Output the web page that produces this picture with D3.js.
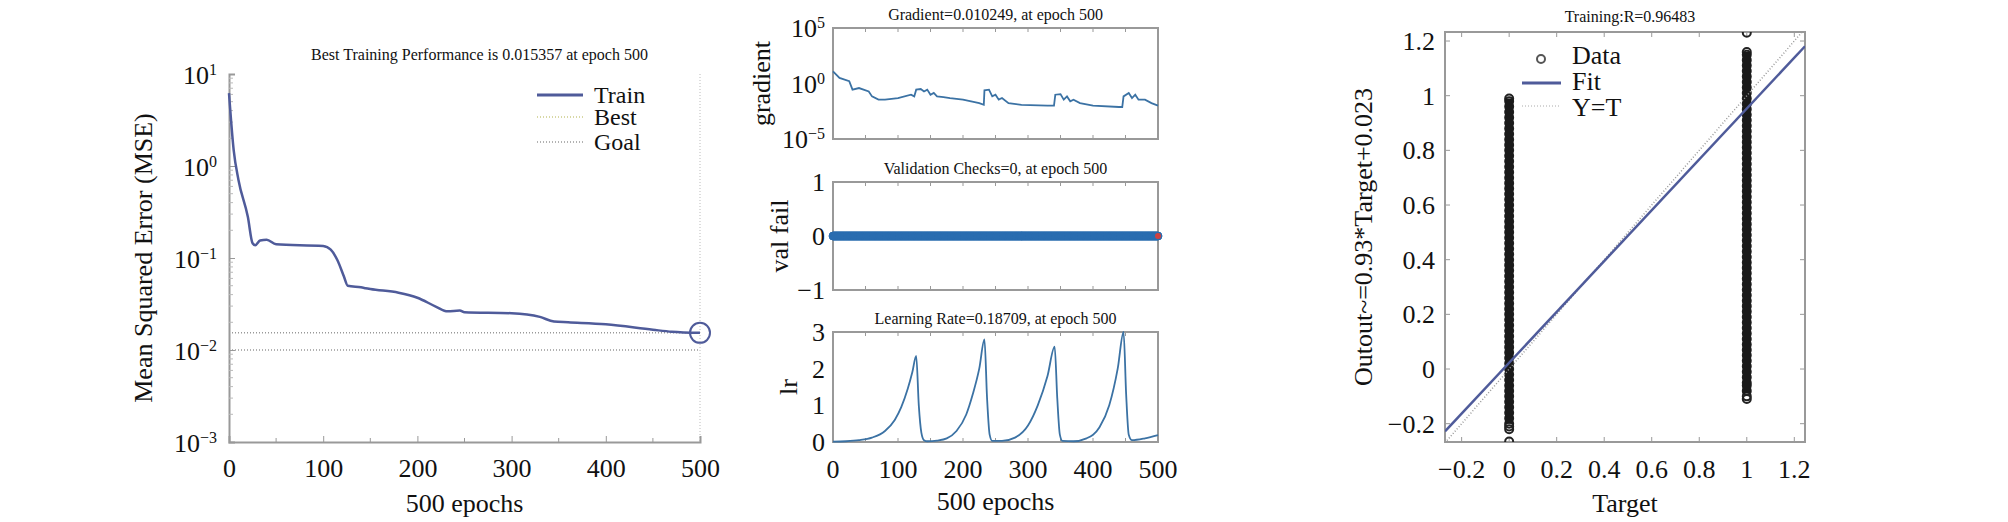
<!DOCTYPE html>
<html>
<head>
<meta charset="utf-8">
<title>Training plots</title>
<script src="https://cdn.jsdelivr.net/npm/d3@7"></script>
<style>
body { margin: 0; background: #fff; }
text { font-family: "Liberation Serif", "DejaVu Serif", serif; fill: #111; }
</style>
</head>
<body>
<script>
// ---- data ----
var perfEpochs = [0, 5, 10, 20, 25, 28, 33, 40, 50, 100, 108, 115, 122, 126, 140, 145, 150, 180, 200, 220, 232, 245, 250, 300, 330, 345, 360, 400, 450, 470, 500];
var perfMse = [6.2, 1.48, 0.71, 0.28, 0.145, 0.138, 0.155, 0.158, 0.141, 0.135, 0.123, 0.095, 0.063, 0.050, 0.048, 0.047, 0.046, 0.042, 0.037, 0.0295, 0.0263, 0.0269, 0.0257, 0.0251, 0.0229, 0.0204, 0.0200, 0.0190, 0.0166, 0.0158, 0.015357];
var bestPerf = 0.015357, goalPerf = 0.01, bestEpoch = 500;

var gradEpochs = [0, 10, 25, 30, 40, 55, 60, 70, 80, 100, 120, 125, 128, 135, 140, 145, 150, 155, 160, 170, 180, 200, 225, 232, 233, 240, 245, 250, 255, 260, 270, 290, 330, 340, 342, 350, 355, 360, 365, 370, 380, 400, 440, 445, 447, 455, 460, 465, 470, 480, 490, 500];
var gradVals = [12.6, 3.2, 1.6, 0.28, 0.39, 0.19, 0.069, 0.035, 0.035, 0.049, 0.098, 0.069, 0.28, 0.32, 0.19, 0.28, 0.098, 0.14, 0.069, 0.06, 0.049, 0.035, 0.017, 0.012, 0.24, 0.28, 0.069, 0.098, 0.035, 0.049, 0.017, 0.012, 0.01, 0.01, 0.098, 0.11, 0.035, 0.069, 0.025, 0.035, 0.017, 0.01, 0.0076, 0.0076, 0.069, 0.14, 0.049, 0.098, 0.035, 0.035, 0.017, 0.010249];

var valEpochs = d3.range(0, 501);
var valFail = valEpochs.map(function () { return 0; });

var lrEpochs = [0, 20, 40, 60, 80, 95, 105, 115, 122, 128, 132, 136, 140, 145, 160, 175, 190, 205, 215, 225, 233, 237, 241, 245, 260, 280, 300, 315, 330, 341, 345, 349, 353, 370, 390, 410, 425, 438, 447, 451, 455, 460, 480, 500];
var lrVals = [0.01, 0.02, 0.05, 0.12, 0.3, 0.6, 0.95, 1.45, 1.9, 2.35, 1.0, 0.25, 0.05, 0.02, 0.04, 0.1, 0.3, 0.75, 1.3, 2.0, 2.8, 1.2, 0.2, 0.03, 0.03, 0.12, 0.45, 1.0, 1.8, 2.6, 1.2, 0.2, 0.03, 0.02, 0.1, 0.4, 1.0, 2.0, 3.0, 1.3, 0.2, 0.05, 0.1, 0.18709];

var outT0 = [-0.265, -0.22, -0.21, -0.2, -0.18, -0.16, -0.14, -0.12, -0.1, -0.08, -0.06, -0.04, -0.02, 0, 0.02, 0.04, 0.06, 0.08, 0.1, 0.12, 0.14, 0.16, 0.18, 0.2, 0.22, 0.24, 0.26, 0.28, 0.3, 0.32, 0.34, 0.36, 0.38, 0.4, 0.42, 0.44, 0.46, 0.48, 0.5, 0.52, 0.54, 0.56, 0.58, 0.6, 0.62, 0.64, 0.66, 0.68, 0.7, 0.72, 0.74, 0.76, 0.78, 0.8, 0.82, 0.84, 0.86, 0.88, 0.9, 0.92, 0.94, 0.96, 0.98, 0.99];
var outT1 = [-0.11, -0.1, -0.08, -0.06, -0.05, -0.03, -0.01, 0.01, 0.03, 0.05, 0.07, 0.09, 0.11, 0.13, 0.15, 0.17, 0.19, 0.21, 0.23, 0.25, 0.27, 0.29, 0.31, 0.33, 0.35, 0.37, 0.39, 0.41, 0.43, 0.45, 0.47, 0.49, 0.51, 0.53, 0.55, 0.57, 0.59, 0.61, 0.63, 0.65, 0.67, 0.69, 0.71, 0.73, 0.75, 0.77, 0.79, 0.81, 0.83, 0.85, 0.87, 0.89, 0.91, 0.93, 0.95, 0.97, 0.99, 1.01, 1.03, 1.05, 1.07, 1.09, 1.11, 1.13, 1.15, 1.16, 1.23];
var fitSlope = 0.93, fitIntercept = 0.023;

var svg = d3.select("body").append("svg").attr("width", 2008).attr("height", 522);

var supNames = { "1": "1", "0": "0", "-1": "\u22121", "-2": "\u22122", "-3": "\u22123", "5": "5", "-5": "\u22125" };
function powLabel(sel, exp) {
    sel.text("10").append("tspan").attr("dy", "-0.55em").style("font-size", "16px").text(supNames[String(exp)]);
}
function styleAxis(g) {
    g.select(".domain").attr("stroke", "#999").attr("stroke-width", 2);
    g.selectAll(".tick line").attr("stroke", "#999");
}
function minus(v) { return String(v).replace("-", "\u2212"); }

// ---------- panel 1: performance ----------
(function () {
    var L = 229, R = 700, T = 74, B = 442;
    var x = d3.scaleLinear().domain([0, 500]).range([L, R]);
    var y = d3.scaleLog().domain([1e-3, 10]).range([B, T]);
    var g = svg.append("g");

    g.append("line").attr("x1", x(500)).attr("x2", x(500)).attr("y1", T).attr("y2", B)
        .attr("stroke", "#bbb").attr("stroke-dasharray", "1,2");
    [bestPerf, goalPerf].forEach(function (v) {
        g.append("line").attr("x1", L).attr("x2", R).attr("y1", y(v)).attr("y2", y(v))
            .attr("stroke", "#999").attr("stroke-dasharray", "1,2").attr("stroke-width", 1.5);
    });

    var xa = g.append("g").attr("transform", "translate(0," + B + ")")
        .call(d3.axisBottom(x).tickValues([0, 100, 200, 300, 400, 500]).tickSize(-6).tickPadding(12));
    styleAxis(xa);
    xa.selectAll(".tick text").style("font-size", "26px").attr("dy", "0.9em");
    xa.selectAll(".tick line").filter(function (d) { return d === 0; }).remove();
    // minor x ticks
    g.selectAll(".mx").data([50, 150, 250, 350, 450]).enter().append("line")
        .attr("x1", x).attr("x2", x).attr("y1", B).attr("y2", B - 4).attr("stroke", "#999");

    var ya = g.append("g").attr("transform", "translate(" + L + ",0)")
        .call(d3.axisLeft(y).tickValues([1e-3, 1e-2, 1e-1, 1, 10]).tickSize(-6).tickFormat(""));
    styleAxis(ya);
    ya.selectAll(".tick").each(function (d) {
        d3.select(this).append("text").attr("x", -12).attr("dy", "0.35em").attr("text-anchor", "end")
            .style("font-size", "26px").call(powLabel, Math.round(Math.log10(d)));
    });
    var minors = [];
    [1e-3, 1e-2, 1e-1, 1].forEach(function (b) { for (var k = 2; k < 10; k++) minors.push(b * k); });
    g.selectAll(".my").data(minors).enter().append("line")
        .attr("x1", L).attr("x2", L + 4).attr("y1", y).attr("y2", y).attr("stroke", "#bbb");

    var line = d3.line().x(function (d, i) { return x(perfEpochs[i]); }).y(function (d) { return y(d); }).curve(d3.curveMonotoneX);
    g.append("path").datum(perfMse).attr("d", line).attr("fill", "none").attr("stroke", "#4f5b9a").attr("stroke-width", 2.5);
    g.append("circle").attr("cx", x(bestEpoch)).attr("cy", y(bestPerf)).attr("r", 10)
        .attr("fill", "none").attr("stroke", "#4f5b9a").attr("stroke-width", 2);

    g.append("text").attr("x", (L + R) / 2 + 15).attr("y", 60).attr("text-anchor", "middle").style("font-size", "16px")
        .text("Best Training Performance is 0.015357 at epoch 500");
    g.append("text").attr("transform", "translate(152," + ((T + B) / 2) + ") rotate(-90)").attr("text-anchor", "middle")
        .style("font-size", "26px").text("Mean Squared Error (MSE)");
    g.append("text").attr("x", (L + R) / 2).attr("y", 512).attr("text-anchor", "middle").style("font-size", "26px").text("500 epochs");

    var leg = [{ n: "Train", c: "#4f5b9a", w: 3, d: null, y: 95 }, { n: "Best", c: "#cccc88", w: 1.5, d: "1,2", y: 117 }, { n: "Goal", c: "#999", w: 1.5, d: "1,2", y: 142 }];
    leg.forEach(function (l) {
        g.append("line").attr("x1", 537).attr("x2", 583).attr("y1", l.y).attr("y2", l.y)
            .attr("stroke", l.c).attr("stroke-width", l.w).attr("stroke-dasharray", l.d);
        g.append("text").attr("x", 594).attr("y", l.y).attr("dy", "0.33em").style("font-size", "24px").text(l.n);
    });
})();

// ---------- panel 2: training state ----------
(function () {
    var L = 833, R = 1158;
    var x = d3.scaleLinear().domain([0, 500]).range([L, R]);
    var color = "#3b72a4";

    function frame(T, B, title, ylabel, labX) {
        var g = svg.append("g");
        g.append("rect").attr("x", L).attr("y", T).attr("width", R - L).attr("height", B - T)
            .attr("fill", "none").attr("stroke", "#999").attr("stroke-width", 2);
        [50, 100, 150, 200, 250, 300, 350, 400, 450].forEach(function (e) {
            g.append("line").attr("x1", x(e)).attr("x2", x(e)).attr("y1", B).attr("y2", B - 4).attr("stroke", "#999");
            g.append("line").attr("x1", x(e)).attr("x2", x(e)).attr("y1", T).attr("y2", T + 4).attr("stroke", "#999");
        });
        g.append("text").attr("x", (L + R) / 2).attr("y", T - 8).attr("text-anchor", "middle").style("font-size", "16px").text(title);
        g.append("text").attr("transform", "translate(" + labX + "," + ((T + B) / 2) + ") rotate(-90)")
            .attr("text-anchor", "middle").style("font-size", "26px").text(ylabel);
        return g;
    }

    // gradient
    var T1 = 28, B1 = 139;
    var g1 = frame(T1, B1, "Gradient=0.010249, at epoch 500", "gradient", 770);
    var y1 = d3.scaleLog().domain([1e-5, 1e5]).range([B1, T1]);
    [1e-5, 1, 1e5].forEach(function (v) {
        g1.append("text").attr("x", L - 8).attr("y", y1(v)).attr("dy", "0.35em").attr("text-anchor", "end")
            .style("font-size", "26px").call(powLabel, Math.round(Math.log10(v)));
    });
    g1.append("path").datum(gradVals)
        .attr("d", d3.line().x(function (d, i) { return x(gradEpochs[i]); }).y(function (d) { return y1(d); }))
        .attr("fill", "none").attr("stroke", color).attr("stroke-width", 1.8);

    // validation
    var T2 = 182, B2 = 290;
    var g2 = frame(T2, B2, "Validation Checks=0, at epoch 500", "val fail", 788);
    var y2 = d3.scaleLinear().domain([-1, 1]).range([B2, T2]);
    [-1, 0, 1].forEach(function (v) {
        g2.append("text").attr("x", L - 8).attr("y", y2(v)).attr("dy", "0.35em").attr("text-anchor", "end")
            .style("font-size", "26px").text(minus(v));
    });
    g2.selectAll("circle").data(valFail).enter().append("circle")
        .attr("cx", function (d, i) { return x(valEpochs[i]); }).attr("cy", y2)
        .attr("r", 4).attr("fill", "#2a6db0").attr("stroke", "#2a6db0");
    g2.append("circle").attr("cx", x(500)).attr("cy", y2(0)).attr("r", 3).attr("fill", "#d04040");

    // learning rate
    var T3 = 332, B3 = 442;
    var g3 = frame(T3, B3, "Learning Rate=0.18709, at epoch 500", "lr", 797);
    var y3 = d3.scaleLinear().domain([0, 3]).range([B3, T3]);
    [0, 1, 2, 3].forEach(function (v) {
        g3.append("text").attr("x", L - 8).attr("y", y3(v)).attr("dy", "0.35em").attr("text-anchor", "end")
            .style("font-size", "26px").text(v);
    });
    g3.append("path").datum(lrVals)
        .attr("d", d3.line().x(function (d, i) { return x(lrEpochs[i]); }).y(function (d) { return y3(d); }).curve(d3.curveMonotoneX))
        .attr("fill", "none").attr("stroke", color).attr("stroke-width", 1.8);
    [0, 100, 200, 300, 400, 500].forEach(function (v) {
        g3.append("text").attr("x", x(v)).attr("y", 478).attr("text-anchor", "middle").style("font-size", "26px").text(v);
    });
    g3.append("text").attr("x", (L + R) / 2).attr("y", 510).attr("text-anchor", "middle").style("font-size", "26px").text("500 epochs");
})();

// ---------- panel 3: regression ----------
(function () {
    var L = 1445, R = 1805, T = 32, B = 442;
    var x = d3.scaleLinear().domain([-0.27, 1.245]).range([L, R]);
    var y = d3.scaleLinear().domain([-0.267, 1.233]).range([B, T]);
    var g = svg.append("g");
    g.append("rect").attr("x", L).attr("y", T).attr("width", R - L).attr("height", B - T)
        .attr("fill", "none").attr("stroke", "#999").attr("stroke-width", 2);
    var ticks = [-0.2, 0, 0.2, 0.4, 0.6, 0.8, 1, 1.2];
    ticks.forEach(function (v) {
        g.append("line").attr("x1", x(v)).attr("x2", x(v)).attr("y1", B).attr("y2", B - 5).attr("stroke", "#999");
        g.append("line").attr("x1", x(v)).attr("x2", x(v)).attr("y1", T).attr("y2", T + 5).attr("stroke", "#999");
        g.append("line").attr("y1", y(v)).attr("y2", y(v)).attr("x1", L).attr("x2", L + 5).attr("stroke", "#999");
        g.append("line").attr("y1", y(v)).attr("y2", y(v)).attr("x1", R).attr("x2", R - 5).attr("stroke", "#999");
        g.append("text").attr("x", x(v)).attr("y", 478).attr("text-anchor", "middle").style("font-size", "26px").text(minus(v));
        g.append("text").attr("x", L - 10).attr("y", y(v)).attr("dy", "0.35em").attr("text-anchor", "end").style("font-size", "26px").text(minus(v));
    });

    var clip = g.append("clipPath").attr("id", "rclip").append("rect")
        .attr("x", L).attr("y", T).attr("width", R - L).attr("height", B - T);
    var inner = g.append("g").attr("clip-path", "url(#rclip)");
    var pts = outT0.map(function (v) { return [0, v]; }).concat(outT1.map(function (v) { return [1, v]; }));
    inner.selectAll("circle").data(pts).enter().append("circle")
        .attr("cx", function (d) { return x(d[0]); }).attr("cy", function (d) { return y(d[1]); })
        .attr("r", 4).attr("fill", "none").attr("stroke", "#222").attr("stroke-width", 2);
    // dense core of each column
    [[0, -0.2, 0.99], [1, -0.09, 1.16]].forEach(function (c) {
        inner.append("line").attr("x1", x(c[0])).attr("x2", x(c[0])).attr("y1", y(c[1])).attr("y2", y(c[2]))
            .attr("stroke", "#1a1a1a").attr("stroke-width", 8);
    });
    inner.append("line").attr("x1", x(-0.27)).attr("x2", x(1.245)).attr("y1", y(-0.27)).attr("y2", y(1.245))
        .attr("stroke", "#999").attr("stroke-dasharray", "1,2").attr("stroke-width", 1.5);
    inner.append("line").attr("x1", x(-0.27)).attr("x2", x(1.245))
        .attr("y1", y(fitSlope * -0.27 + fitIntercept)).attr("y2", y(fitSlope * 1.245 + fitIntercept))
        .attr("stroke", "#4f5b9a").attr("stroke-width", 2.5);

    g.append("text").attr("x", (L + R) / 2 + 5).attr("y", 22).attr("text-anchor", "middle").style("font-size", "16px").text("Training:R=0.96483");
    g.append("text").attr("transform", "translate(1372," + ((T + B) / 2) + ") rotate(-90)").attr("text-anchor", "middle")
        .style("font-size", "26px").text("Outout~=0.93*Target+0.023");
    g.append("text").attr("x", (L + R) / 2).attr("y", 512).attr("text-anchor", "middle").style("font-size", "26px").text("Target");

    g.append("circle").attr("cx", 1541).attr("cy", 59).attr("r", 4).attr("fill", "none").attr("stroke", "#555").attr("stroke-width", 2);
    g.append("line").attr("x1", 1522).attr("x2", 1561).attr("y1", 83).attr("y2", 83).attr("stroke", "#4f5b9a").attr("stroke-width", 3);
    g.append("line").attr("x1", 1522).attr("x2", 1561).attr("y1", 106).attr("y2", 106).attr("stroke", "#aaa").attr("stroke-dasharray", "1,2");
    [["Data", 55], ["Fit", 81], ["Y=T", 107]].forEach(function (l) {
        g.append("text").attr("x", 1572).attr("y", l[1]).attr("dy", "0.35em").style("font-size", "26px").text(l[0]);
    });
})();
</script>
</body>
</html>
